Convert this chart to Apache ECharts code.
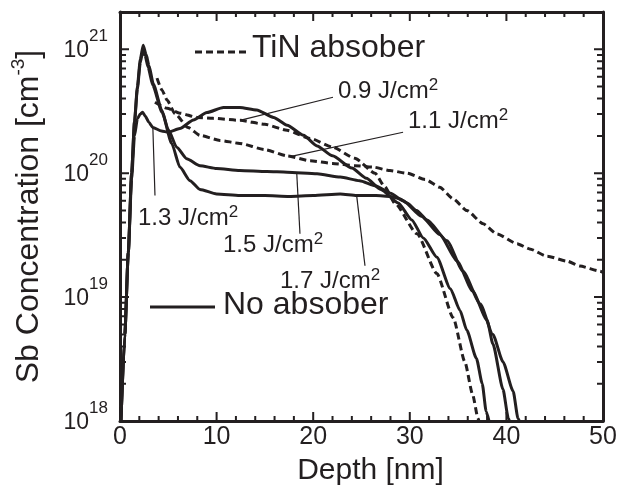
<!DOCTYPE html>
<html>
<head>
<meta charset="utf-8">
<script src="https://cdn.jsdelivr.net/npm/echarts@6/dist/echarts.min.js"></script>
<style>
  html, body { margin: 0; padding: 0; background: #fff; }
  #chart { width: 630px; height: 496px; }
</style>
</head>
<body>
<div id="chart"></div>
<script>
// Sb depth profiles: depth [nm] and concentration [cm^-3]

// TiN absorber, 0.9 J/cm2 (dashed)
const depth09 = [3.62, 4.87, 6.21, 7.97, 9.63, 12.42, 15.0, 17.29, 19.67, 22.05, 24.3, 26.4, 27.4, 28.47, 30.75, 32.8, 34.5, 35.7, 36.5, 37.06, 37.15];
const conc09  = [3.74e20, 3.34e20, 3.05e20, 2.82e20, 2.77e20, 2.67e20, 2.48e20, 2.22e20, 1.91e20, 1.62e20, 1.32e20, 1.0e20, 7.8e19, 5.7e19, 3.24e19, 1.55e19, 6.8e18, 3.0e18, 1.64e18, 1.05e18, 1.0e18];

// TiN absorber, 1.1 J/cm2 (dashed)
const depth11 = [3.83, 4.35, 4.87, 5.7, 7.04, 8.28, 10.35, 12.4, 15.0, 17.3, 19.7, 22.0, 24.3, 26.2, 27.95, 29.7, 31.6, 33.1, 34.5, 35.9, 37.6, 39.0, 41.1, 42.4, 44.2, 46.3, 47.6, 49.7, 50.0];
const conc11  = [5.85e20, 4.68e20, 3.89e20, 3.02e20, 2.34e20, 2.02e20, 1.84e20, 1.74e20, 1.55e20, 1.38e20, 1.26e20, 1.20e20, 1.15e20, 1.12e20, 1.05e20, 1.0e20, 8.9e19, 7.7e19, 6.2e19, 5.0e19, 3.9e19, 3.24e19, 2.7e19, 2.45e19, 2.14e19, 1.95e19, 1.78e19, 1.62e19, 1.58e19];

// No absorber, 1.3 J/cm2 (solid)
const depth13 = [0.1, 0.5, 0.86, 1.2, 1.5, 1.8, 2.1, 2.35, 2.6, 3.0, 3.4, 4.3, 5.0, 6.2, 7.6, 9.0, 10.7, 12.4, 14.15, 15.9, 17.3, 19.0, 20.4, 22.0, 24.0, 25.5, 27.0, 28.8, 30.2, 31.4, 32.8, 34.2, 35.2, 35.9, 36.9, 37.5, 37.9, 38.2];
const conc13  = [1.0e18, 5.0e18, 2.3e19, 8.9e19, 2.0e20, 2.75e20, 3.0e20, 3.1e20, 2.9e20, 2.57e20, 2.34e20, 2.19e20, 2.14e20, 2.29e20, 2.69e20, 3.09e20, 3.39e20, 3.39e20, 3.24e20, 2.82e20, 2.44e20, 2.02e20, 1.66e20, 1.38e20, 1.10e20, 9.1e19, 7.4e19, 5.75e19, 4.2e19, 3.0e19, 2.1e19, 1.17e19, 7.8e18, 5.4e18, 3.2e18, 2.0e18, 1.2e18, 1.0e18];

// No absorber, 1.5 J/cm2 (solid)
const depth15 = [0.1, 0.5, 0.86, 1.2, 1.5, 1.8, 2.1, 2.4, 2.7, 3.0, 3.45, 4.32, 5.0, 5.87, 6.9, 8.28, 10.0, 12.4, 15.2, 17.3, 20.4, 22.8, 24.8, 26.5, 28.0, 29.3, 31.2, 33.1, 34.9, 36.5, 38.0, 38.6, 39.65, 40.2, 40.3];
const conc15  = [1.0e18, 5.0e18, 2.3e19, 1.0e20, 2.6e20, 5.0e20, 8.3e20, 1.08e21, 9.1e20, 7.4e20, 5.25e20, 3.24e20, 2.24e20, 1.62e20, 1.31e20, 1.15e20, 1.09e20, 1.05e20, 1.03e20, 1.02e20, 9.9e19, 9.3e19, 8.7e19, 7.9e19, 6.9e19, 6.0e19, 4.5e19, 3.2e19, 1.95e19, 1.12e19, 6.5e18, 4.2e18, 1.8e18, 1.05e18, 1.0e18];

// No absorber, 1.7 J/cm2 (solid)
const depth17 = [0.1, 0.5, 0.86, 1.2, 1.5, 1.8, 2.1, 2.35, 2.6, 2.9, 3.4, 4.35, 5.35, 6.2, 7.25, 8.28, 10.0, 12.4, 15.0, 17.5, 20.0, 22.8, 24.5, 26.5, 28.0, 29.0, 29.7, 30.7, 31.8, 33.85, 35.5, 37.3, 38.6, 39.65, 40.7, 41.2, 41.35];
const conc17  = [1.0e18, 5.0e18, 2.3e19, 1.0e20, 2.6e20, 4.8e20, 7.8e20, 9.6e20, 8.9e20, 7.2e20, 5.1e20, 3.1e20, 1.74e20, 1.12e20, 8.7e19, 7.4e19, 6.8e19, 6.6e19, 6.6e19, 6.5e19, 6.6e19, 6.8e19, 6.6e19, 6.6e19, 6.5e19, 6.2e19, 5.75e19, 5.0e19, 4.2e19, 2.85e19, 1.62e19, 8.8e18, 5.0e18, 3.0e18, 1.74e18, 1.05e18, 1.0e18];

// Axis ranges and tick values
const xRange = [0, 50];
const xMajorStep = 10;
const xMinorStep = 2;
const yRange = [1e18, 2e21];
const yDecades = [18, 19, 20, 21];

// Leader lines from each fluence label to its curve: [depth, conc] pairs
const leader09 = [[22.05, 4.1e20], [12.42, 2.67e20]];
const leader11 = [[29.3, 2.14e20], [17.6, 1.36e20]];
const leader13 = [[3.4, 2.34e20], [3.62, 6.6e19]];
const leader15 = [[18.29, 1.02e20], [18.63, 3.24e19]];
const leader17 = [[24.5, 6.6e19], [25.36, 1.79e19]];

const INK = '#231f20';
const FONT = '"Liberation Sans", Arial, Helvetica, sans-serif';

// Plot box in pixels (used for layout and to size the inward tick marks)
const GRID = { left: 120, right: 27, top: 12, bottom: 75 };
const plotW = 630 - GRID.left - GRID.right;
const plotH = 496 - GRID.top - GRID.bottom;
const decadesShown = Math.log10(yRange[1] / yRange[0]);

// Tick lengths converted into axis units
function xLen(px) { return px / plotW * (xRange[1] - xRange[0]); }
function yFactor(px) { return Math.pow(10, px / plotH * decadesShown); }

// Inward frame ticks, as broken line segments
const tickData = [];
function seg(a, b) { tickData.push(a, b, ['-', '-']); }
for (let v = xRange[0] + xMinorStep; v < xRange[1]; v += xMinorStep) {
  const isMajor = Math.abs(v / xMajorStep - Math.round(v / xMajorStep)) < 1e-9;
  const f = yFactor(isMajor ? 9 : 5);
  seg([v, yRange[0]], [v, yRange[0] * f]);
  seg([v, yRange[1]], [v, yRange[1] / f]);
}
for (let i = 0; i < yDecades.length; i++) {
  for (let k = 1; k <= 9; k++) {
    const v = k * Math.pow(10, yDecades[i]);
    if (v <= yRange[0] || v >= yRange[1]) continue;
    const d = xLen(k === 1 ? 9 : 6);
    seg([xRange[0], v], [xRange[0] + d, v]);
    seg([xRange[1], v], [xRange[1] - d, v]);
  }
}

function pairs(xs, ys) { return xs.map((x, i) => [x, ys[i]]); }

function curve(name, xs, ys, dashed, leader) {
  return {
    name: name, type: 'line', data: pairs(xs, ys), showSymbol: false,
    smooth: 0.2, smoothMonotone: 'x',
    lineStyle: { color: INK, width: 3, type: dashed ? [7, 4] : 'solid' },
    animation: false, z: 3,
    markLine: {
      silent: true, animation: false, symbol: ['none', 'none'],
      label: { show: false },
      lineStyle: { color: INK, width: 1.2, type: 'solid' },
      emphasis: { disabled: true },
      data: [[{ coord: leader[0] }, { coord: leader[1] }]]
    }
  };
}

function frameLine() { return { show: true, onZero: false, lineStyle: { color: INK, width: 3 } }; }

const labelRich = {
  t: { fontSize: 24, lineHeight: 29, fontFamily: FONT, color: INK },
  s: { fontSize: 17, lineHeight: 17, fontFamily: FONT, color: INK, verticalAlign: 'top' }
};

function fluenceLabel(value, left, baseline) {
  return {
    type: 'text', x: left, y: baseline - 8.5, z: 10,
    style: { text: '{t|' + value + ' J/cm}{s|2}', rich: labelRich, verticalAlign: 'middle', align: 'left', fill: INK }
  };
}

const chart = echarts.init(document.getElementById('chart'));

chart.setOption({
  animation: false,
  grid: { left: GRID.left, right: GRID.right, top: GRID.top, bottom: GRID.bottom, containLabel: false },
  xAxis: [
    {
      type: 'value', position: 'bottom', min: xRange[0], max: xRange[1], interval: xMajorStep,
      axisLine: frameLine(), axisTick: { show: false }, splitLine: { show: false },
      axisLabel: { fontSize: 25, color: INK, fontFamily: FONT, margin: 4 },
      name: 'Depth [nm]', nameLocation: 'middle', nameGap: 35,
      nameTextStyle: { fontSize: 30, color: INK, fontFamily: FONT, padding: [0, 0, 0, 18] }
    },
    {
      type: 'value', position: 'top', min: xRange[0], max: xRange[1], interval: xMajorStep,
      axisLine: frameLine(), axisTick: { show: false }, splitLine: { show: false }, axisLabel: { show: false }
    }
  ],
  yAxis: [
    {
      type: 'log', logBase: 10, position: 'left', min: yRange[0], max: yRange[1],
      axisLine: frameLine(), axisTick: { show: false }, splitLine: { show: false },
      axisLabel: {
        margin: 12, color: INK, fontFamily: FONT, padding: [3, 0, 0, 0],
        formatter: function (v) {
          const l = Math.log10(v); const e = Math.round(l);
          if (Math.abs(l - e) > 1e-6) return '';
          return '{b|10}{s|' + e + '}';
        },
        rich: {
          b: { fontSize: 23, lineHeight: 46, fontFamily: FONT, color: INK },
          s: { fontSize: 17, lineHeight: 17, fontFamily: FONT, color: INK, verticalAlign: 'top' }
        }
      },
      name: '{n|Sb Concentration [cm}{s|-3}{n|]}',
      nameLocation: 'middle', nameGap: 71,
      nameTextStyle: {
        color: INK, fontFamily: FONT, fontSize: 32,
        rich: {
          n: { fontSize: 32, lineHeight: 40, fontFamily: FONT, color: INK },
          s: { fontSize: 19, lineHeight: 19, fontFamily: FONT, color: INK, verticalAlign: 'top' }
        }
      }
    },
    {
      type: 'log', logBase: 10, position: 'right', min: yRange[0], max: yRange[1],
      axisLine: frameLine(), axisTick: { show: false }, splitLine: { show: false }, axisLabel: { show: false }
    }
  ],
  series: [
    curve('0.9 J/cm2', depth09, conc09, true, leader09),
    curve('1.1 J/cm2', depth11, conc11, true, leader11),
    curve('1.3 J/cm2', depth13, conc13, false, leader13),
    curve('1.5 J/cm2', depth15, conc15, false, leader15),
    curve('1.7 J/cm2', depth17, conc17, false, leader17),
    {
      name: 'frame ticks', type: 'line', data: tickData, showSymbol: false,
      connectNulls: false, smooth: false, clip: false, silent: true, animation: false, z: 6,
      lineStyle: { color: INK, width: 2, cap: 'butt' }
    }
  ],
  graphic: [
    // legend key: TiN absorber (dashed)
    { type: 'line', z: 10, shape: { x1: 195, y1: 52, x2: 248, y2: 52 }, style: { stroke: INK, lineWidth: 3, lineDash: [7, 4] } },
    { type: 'text', z: 10, x: 252, y: 48.5, style: { text: 'TiN absober', font: '32px ' + FONT, fill: INK, verticalAlign: 'middle', align: 'left' } },
    // legend key: no absorber (solid)
    { type: 'line', z: 10, shape: { x1: 150, y1: 307, x2: 215, y2: 307 }, style: { stroke: INK, lineWidth: 3 } },
    { type: 'text', z: 10, x: 223, y: 305.5, style: { text: 'No absober', font: '32px ' + FONT, fill: INK, verticalAlign: 'middle', align: 'left' } },
    fluenceLabel('0.9', 338, 100),
    fluenceLabel('1.1', 408, 130),
    fluenceLabel('1.3', 138, 227),
    fluenceLabel('1.5', 223, 254),
    fluenceLabel('1.7', 280, 290)
  ]
});
</script>
</body>
</html>
